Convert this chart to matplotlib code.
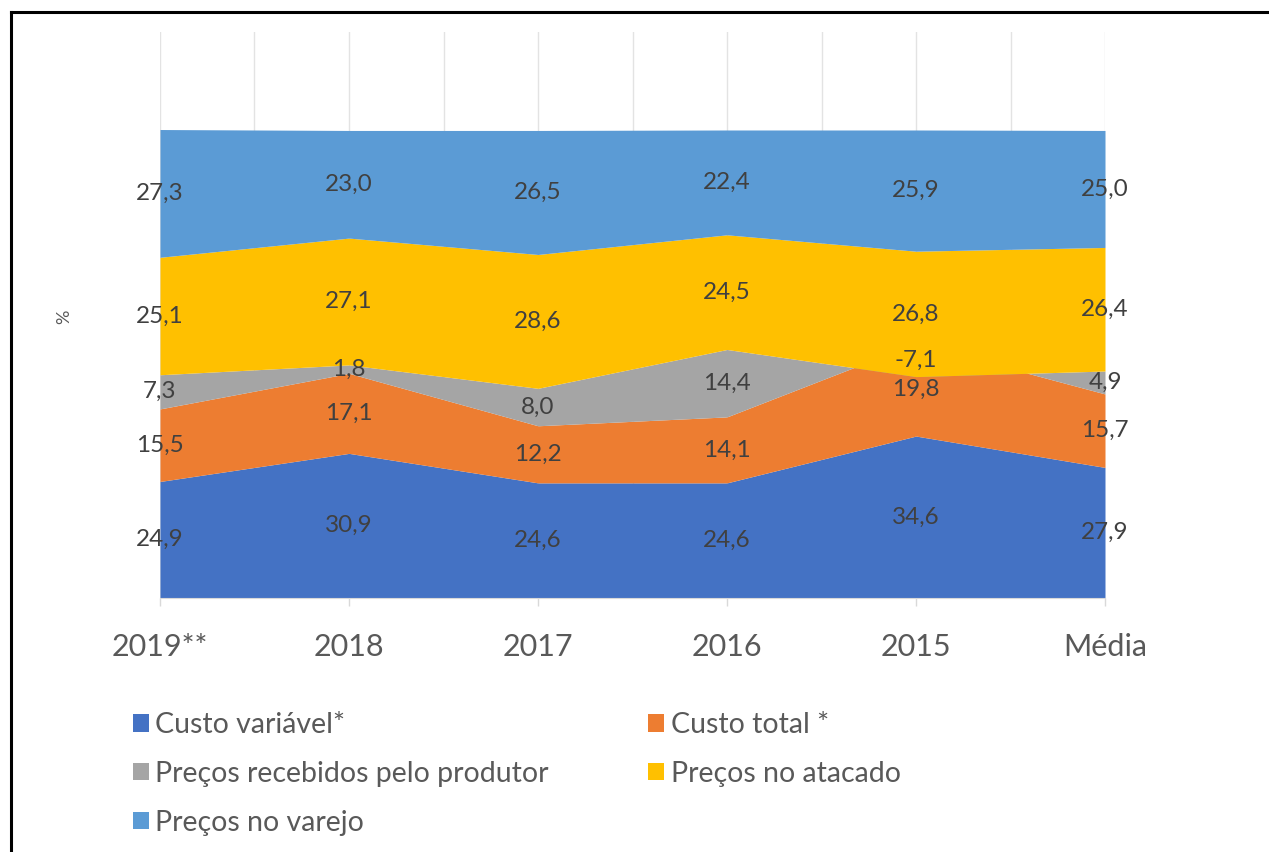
import matplotlib
matplotlib.use('Agg')
import matplotlib.pyplot as plt
import numpy as np
from matplotlib.patches import Patch
from matplotlib.lines import Line2D

categories = ['2019**', '2018', '2017', '2016', '2015', 'Média']
custo_variavel = [24.9, 30.9, 24.6, 24.6, 34.6, 27.9]
custo_total = [15.5, 17.1, 12.2, 14.1, 19.8, 15.7]
precos_produtor = [7.3, 1.8, 8.0, 14.4, -7.1, 4.9]
precos_atacado = [25.1, 27.1, 28.6, 24.5, 26.8, 26.4]
precos_varejo = [27.3, 23.0, 26.5, 22.4, 25.9, 25.0]
series_names = ['Custo variável*', 'Custo total *', 'Preços recebidos pelo produtor',
                'Preços no atacado', 'Preços no varejo']
colors = ['#4472C4', '#ED7D31', '#A5A5A5', '#FFC000', '#5B9BD5']

plt.rcParams['font.family'] = ['Lato', 'DejaVu Sans']

W, H = 1269, 852
fig = plt.figure(figsize=(W / 100, H / 100), dpi=100)
ax = fig.add_axes([160 / W, 1 - 598 / H, (1105 - 160) / W, 566.3 / H])

series = [custo_variavel, custo_total, precos_produtor, precos_atacado, precos_varejo]
x = np.arange(len(categories))
bottom = np.zeros(len(categories))
for vals, col in zip(series, colors):
    v = np.array(vals, dtype=float)
    top = bottom + v
    ax.fill_between(x, bottom, top, color=col, linewidth=0, zorder=2)
    for xi, b, t, val in zip(x, bottom, top, v):
        ax.text(xi, (b + t) / 2, f'{val:.1f}'.replace('.', ','), ha='center', va='center',
                fontsize=17.5, color='#404040', zorder=5)
    bottom = top

ax.set_xlim(0, len(categories) - 1)
ax.set_ylim(0, 121)
ax.set_yticks([])
for gx in np.arange(0, len(categories) - 0.5, 0.5):
    ax.axvline(gx, color='#E3E3E3', linewidth=1, zorder=1)
ax.set_xticks(x)
ax.set_xticklabels(categories, fontsize=22, color='#595959')
ax.tick_params(axis='x', length=6, width=1, color='#D9D9D9', pad=19.5)
for s in ['top', 'right', 'left']:
    ax.spines[s].set_visible(False)
ax.spines['bottom'].set_color('#D9D9D9')
ax.set_ylabel('%', fontsize=13, color='#595959')
ax.yaxis.set_label_coords((72 - 160) / (1105 - 160), (598 - 317) / 566.3)

handles = [Patch(facecolor=c, edgecolor='none') for c in colors]
order = [0, 2, 4, 1, 3]
fig.legend([handles[i] for i in order], [series_names[i] for i in order],
           loc='upper left', bbox_to_anchor=(133 / W, 1 - 712 / H), ncol=2,
           frameon=False, fontsize=20.5, handlelength=0.56, handleheight=0.56,
           handletextpad=0.22, labelspacing=0.80, columnspacing=3.5,
           labelcolor='#595959', borderaxespad=0, borderpad=0)

fig.add_artist(Line2D([11 / W, 11 / W], [0, 1 - 12 / H], color='black', linewidth=2.2))
fig.add_artist(Line2D([11 / W, 1], [1 - 12 / H, 1 - 12 / H], color='black', linewidth=2.2))

fig.savefig('out.png', dpi=100)
